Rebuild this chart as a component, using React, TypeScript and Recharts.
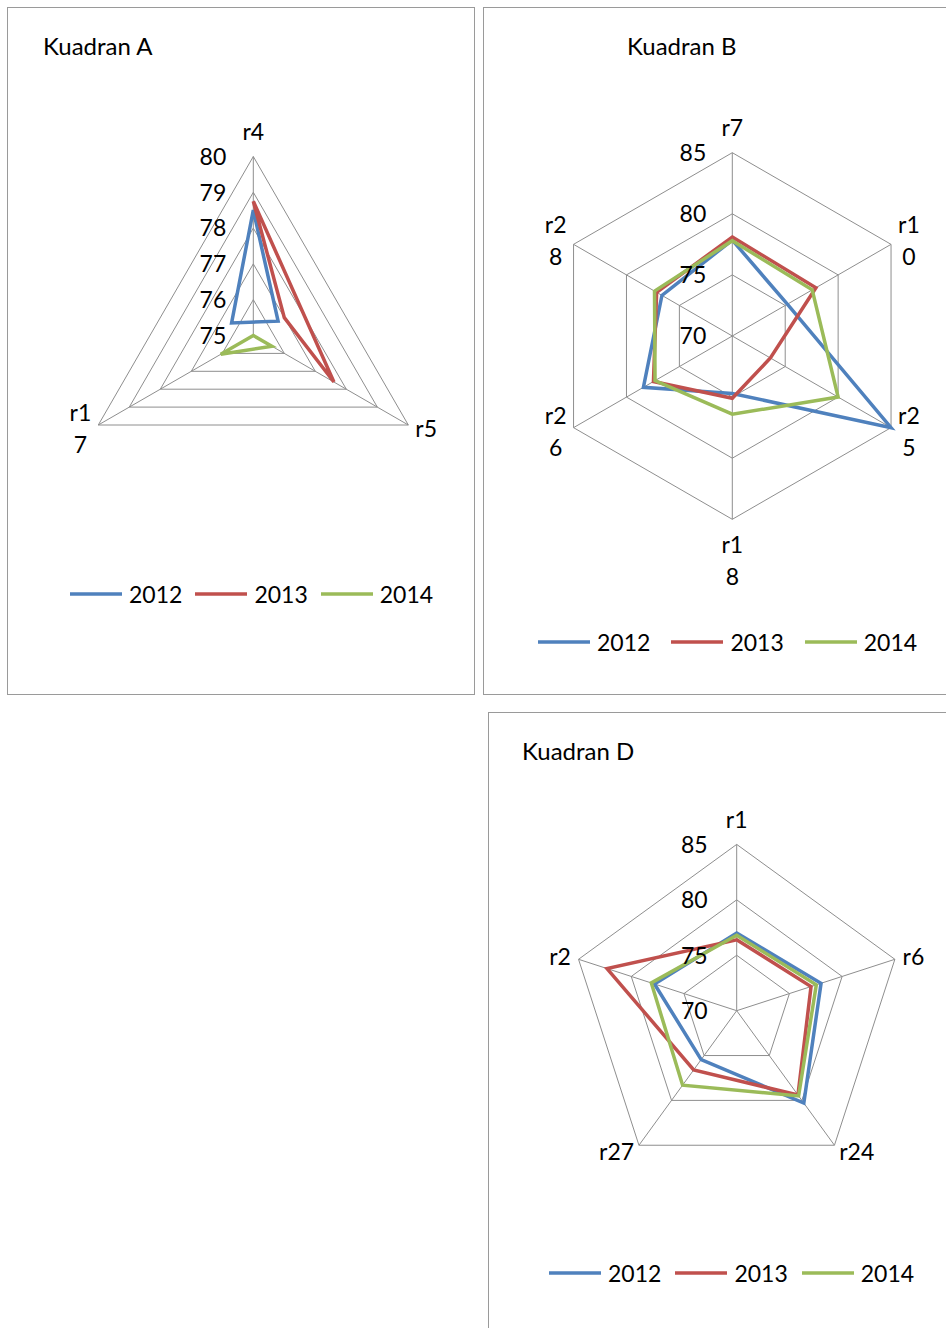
import React from 'react'
import { RadarChart, Radar, PolarGrid, PolarAngleAxis, PolarRadiusAxis, Legend } from 'recharts'

// Kuadran A
const catsA = ['r4', 'r5', 'r17']
const a2012 = [78.5, 74.3, 74.2]
const a2013 = [78.75, 77.6, 74.0]
const a2014 = [75.0, 75.6, 76.05]

// Kuadran B
const catsB = ['r7', 'r10', 'r25', 'r18', 'r26', 'r28']
const b2012 = [77.85, 75.2, 85.0, 74.7, 78.4, 76.65]
const b2013 = [78.1, 77.9, 73.6, 75.1, 77.45, 77.15]
const b2014 = [77.8, 77.55, 80.0, 76.4, 77.3, 77.35]

// Kuadran D
const catsD = ['r1', 'r6', 'r24', 'r27', 'r2']
const d2012 = [77.0, 78.0, 80.3, 75.45, 77.8]
const d2013 = [76.4, 77.05, 79.4, 76.6, 82.3]
const d2014 = [76.8, 77.55, 79.5, 78.3, 78.1]

const YEARS = ['2012', '2013', '2014']
const COLORS = ['#4F81BD', '#C0504D', '#9BBB59']

const FONT = 'Lato, "Open Sans", sans-serif'
const FS = 23
const TITLE_FS = 24
const LINE_H = 32
const BASE = 8.3 // baseline below the visual centre of digits

const buildRows = (cats: string[], series: number[][]) =>
    cats.map((name, i) => {
        const row: Record<string, any> = { name }
        YEARS.forEach((y, k) => { row[y] = series[k][i] })
        return row
    })

// rough advance widths for Lato
const textWidth = (s: string) =>
    s.split('').reduce((w, ch) => w + (ch === 'r' ? 0.37 : 0.58), 0) * FS

const AngleTick = (props: any) => {
    const { x, y, textAnchor, payload, wrap } = props
    const label = String(payload.value)
    const lines = wrap && label.length > 2 ? [label.slice(0, 2), label.slice(2)] : [label]
    const w = Math.max(...lines.map(textWidth))
    const sin = Math.sin((payload.coordinate * Math.PI) / 180)
    let mx = x
    if (textAnchor === 'start') mx = x + w / 2
    else if (textAnchor === 'end') mx = x - w / 2
    let first: number
    if (textAnchor === 'middle') first = sin > 0 ? y - 17 - (lines.length - 1) * LINE_H : y + 17
    else first = y - ((lines.length - 1) * LINE_H) / 2
    return (
        <g>
            {lines.map((l, i) => (
                <text key={i} x={mx} y={first + i * LINE_H + BASE} textAnchor="middle"
                    fontFamily={FONT} fontSize={FS} fill="#000">{l}</text>
            ))}
        </g>
    )
}

const RadiusTick = (props: any) => {
    const { x, y, payload, dx } = props
    return (
        <text x={x - dx} y={y + BASE} textAnchor="end" fontFamily={FONT} fontSize={FS} fill="#000">
            {payload.value}
        </text>
    )
}

const makeLegend = (gap: number) => (props: any) => {
    const items = props.payload || []
    return (
        <div style={{ display: 'flex', alignItems: 'center', fontFamily: FONT, fontSize: FS, lineHeight: '30px', whiteSpace: 'nowrap' }}>
            {items.map((it: any, i: number) => {
                const c = COLORS[YEARS.indexOf(String(it.value))]
                return (
                    <div key={i} style={{ display: 'flex', alignItems: 'center', marginRight: gap }}>
                        <svg width={52} height={30} style={{ display: 'block' }}>
                            <line x1={0} x2={52} y1={15} y2={15} stroke={c} strokeWidth={3.5} />
                        </svg>
                        <span style={{ marginLeft: 7, color: '#000' }}>{it.value}</span>
                    </div>
                )
            })}
        </div>
    )
}

interface PanelProps {
    cats: string[]
    series: number[][]
    domain: [number, number]
    tickCount: number
    left: number
    top: number
    width: number
    height: number
    cx: number
    cy: number
    r: number
    wrap: boolean
    tickDx: number
    legendX: number
    legendY: number
    legendGap: number
}

function RadarPanel(p: PanelProps) {
    const data = buildRows(p.cats, p.series)
    return (
        <div style={{ position: 'absolute', left: p.left, top: p.top }}>
            <RadarChart width={p.width} height={p.height} data={data} cx={p.cx} cy={p.cy}
                outerRadius={p.r} margin={{ top: 0, right: 0, bottom: 0, left: 0 }}>
                <PolarGrid gridType="polygon" stroke="#8e8e8e" strokeWidth={1} />
                <PolarAngleAxis dataKey="name" axisLine={false} tickLine={false}
                    tick={(tp: any) => <AngleTick {...tp} wrap={p.wrap} />} />
                <PolarRadiusAxis angle={90} domain={p.domain} tickCount={p.tickCount} allowDataOverflow
                    axisLine={false} tickLine={false}
                    tick={(tp: any) => <RadiusTick {...tp} dx={p.tickDx} />} />
                {YEARS.map((y, k) => (
                    <Radar key={y} name={y} dataKey={y} stroke={COLORS[k]} strokeWidth={3.5}
                        fill="none" fillOpacity={0} dot={false} legendType="line" isAnimationActive={false} />
                ))}
                <Legend layout="horizontal" verticalAlign="middle" align="center"
                    content={makeLegend(p.legendGap)}
                    wrapperStyle={{ left: p.legendX, top: p.legendY - 15, width: 'auto', height: 30 }} />
            </RadarChart>
        </div>
    )
}

const boxStyle = (left: number, top: number, width: number, height: number): React.CSSProperties => ({
    position: 'absolute', left, top, width, height, boxSizing: 'border-box',
    border: '1px solid #9a9a9a',
})

export default function App() {
    return (
        <div style={{ position: 'absolute', left: 0, top: 0, width: 946, height: 1328, overflow: 'hidden', background: '#fff' }}>
            <div style={boxStyle(7, 7, 468, 688)} />
            <div style={boxStyle(483, 7, 480, 688)} />
            <div style={boxStyle(488, 712, 480, 640)} />

            <svg width={946} height={1328} style={{ position: 'absolute', left: 0, top: 0 }}>
                <text x={43} y={47 + BASE} fontFamily={FONT} fontSize={TITLE_FS} fill="#000">Kuadran A</text>
                <text x={627} y={47 + BASE} fontFamily={FONT} fontSize={TITLE_FS} fill="#000">Kuadran B</text>
                <text x={522} y={752 + BASE} fontFamily={FONT} fontSize={TITLE_FS} fill="#000">Kuadran D</text>
            </svg>

            <RadarPanel cats={catsA} series={[a2012, a2013, a2014]} domain={[75, 80]} tickCount={6}
                left={7} top={7} width={468} height={688} cx={246.3} cy={328.5} r={179}
                wrap tickDx={27} legendX={63} legendY={587} legendGap={13} />

            <RadarPanel cats={catsB} series={[b2012, b2013, b2014]} domain={[70, 85]} tickCount={4}
                left={483} top={7} width={463} height={688} cx={249.3} cy={329} r={183.3}
                wrap tickDx={26} legendX={55} legendY={635} legendGap={21} />

            <RadarPanel cats={catsD} series={[d2012, d2013, d2014]} domain={[70, 85]} tickCount={4}
                left={488} top={712} width={458} height={616} cx={248.7} cy={298.7} r={166.3}
                wrap={false} tickDx={29} legendX={61} legendY={561} legendGap={14} />
        </div>
    )
}
